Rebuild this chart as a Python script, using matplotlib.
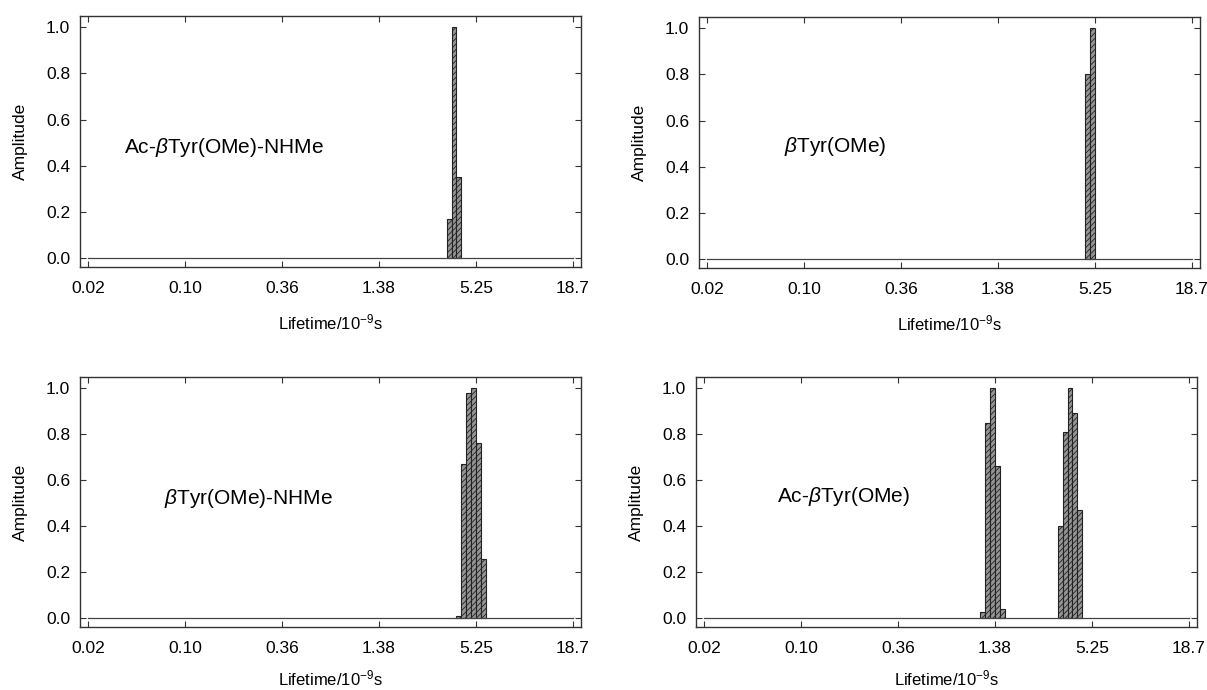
import numpy as np
import matplotlib
matplotlib.use("Agg")
from matplotlib import pyplot as plt

plt.rcParams['font.family'] = ['Liberation Sans', 'DejaVu Sans']
plt.rcParams['mathtext.fontset'] = 'custom'
plt.rcParams['mathtext.rm'] = 'Liberation Sans'
plt.rcParams['mathtext.it'] = 'Liberation Sans:italic'
plt.rcParams['hatch.linewidth'] = 0.6

# lifetime axis: 100 log bins, labels every 20 bins
tick_labels = ['0.02', '0.10', '0.36', '1.38', '5.25', '18.7']
n_bins = 100

# panel names
names = [r'Ac-$\beta$Tyr(OMe)-NHMe', r'$\beta$Tyr(OMe)',
         r'$\beta$Tyr(OMe)-NHMe', r'Ac-$\beta$Tyr(OMe)']

# non-zero bins and amplitudes
bins_tl = [74, 75, 76]
amp_tl = [0.17, 1.0, 0.35]
bins_tr = [78, 79]
amp_tr = [0.80, 1.0]
bins_bl = [76, 77, 78, 79, 80, 81]
amp_bl = [0.01, 0.67, 0.98, 1.0, 0.76, 0.26]
bins_br = [57, 58, 59, 60, 61, 73, 74, 75, 76, 77]
amp_br = [0.03, 0.85, 1.0, 0.66, 0.04, 0.40, 0.81, 1.0, 0.89, 0.47]

# name text position (bin, amplitude)
name_pos = [(7.4, 0.48), (15.8, 0.49), (15.6, 0.52), (15.1, 0.53)]

# axes rectangles in pixels: left, top, right, bottom
W, H = 1207, 690
rects = [(80, 16, 581, 267), (699, 17, 1200, 268),
         (80, 377, 581, 627), (696, 377, 1197, 627)]
xlabel_y = [-0.18, -0.18, -0.168, -0.168]

fig = plt.figure(figsize=(W / 100, H / 100), dpi=100)

data = [(bins_tl, amp_tl), (bins_tr, amp_tr), (bins_bl, amp_bl), (bins_br, amp_br)]

for k, (b, a) in enumerate(data):
    l, t, r, bt = rects[k]
    ax = fig.add_axes([l / W, 1 - bt / H, (r - l) / W, (bt - t) / H])
    # full histogram: zeros everywhere except the read bins
    amp = np.zeros(n_bins)
    amp[b] = a
    ax.plot([0, n_bins], [0, 0], color='#444444', lw=0.9)
    ax.bar(b, a, width=1.0, align='edge', facecolor='#959595',
           edgecolor='#222222', hatch='//////', linewidth=0.8)
    ax.set_xlim(-1.7, 101.7)
    ax.set_ylim(-0.037, 1.048)
    ax.set_xticks(np.arange(0, n_bins + 1, 20))
    ax.set_xticklabels(tick_labels)
    ax.set_yticks(np.arange(0, 1.01, 0.2))
    ax.set_yticklabels(['0.0', '0.2', '0.4', '0.6', '0.8', '1.0'])
    ax.tick_params(direction='in', length=4, width=0.8, labelsize=12.5,
                   top=True, right=True, color='#333333')
    ax.tick_params(axis='x', pad=10)
    ax.tick_params(axis='y', pad=7)
    for s in ax.spines.values():
        s.set_linewidth(1.0)
        s.set_color('#333333')
    ax.set_ylabel('Amplitude', fontsize=12.5)
    ax.yaxis.set_label_coords(-0.104, 0.5)
    ax.set_xlabel(r'Lifetime/10$^{-9}$s', fontsize=12)
    ax.xaxis.set_label_coords(0.5, xlabel_y[k])
    nx, ny = name_pos[k]
    ax.text(nx, ny, names[k], fontsize=15, va='center', ha='left')

plt.savefig('out.png', dpi=100)
